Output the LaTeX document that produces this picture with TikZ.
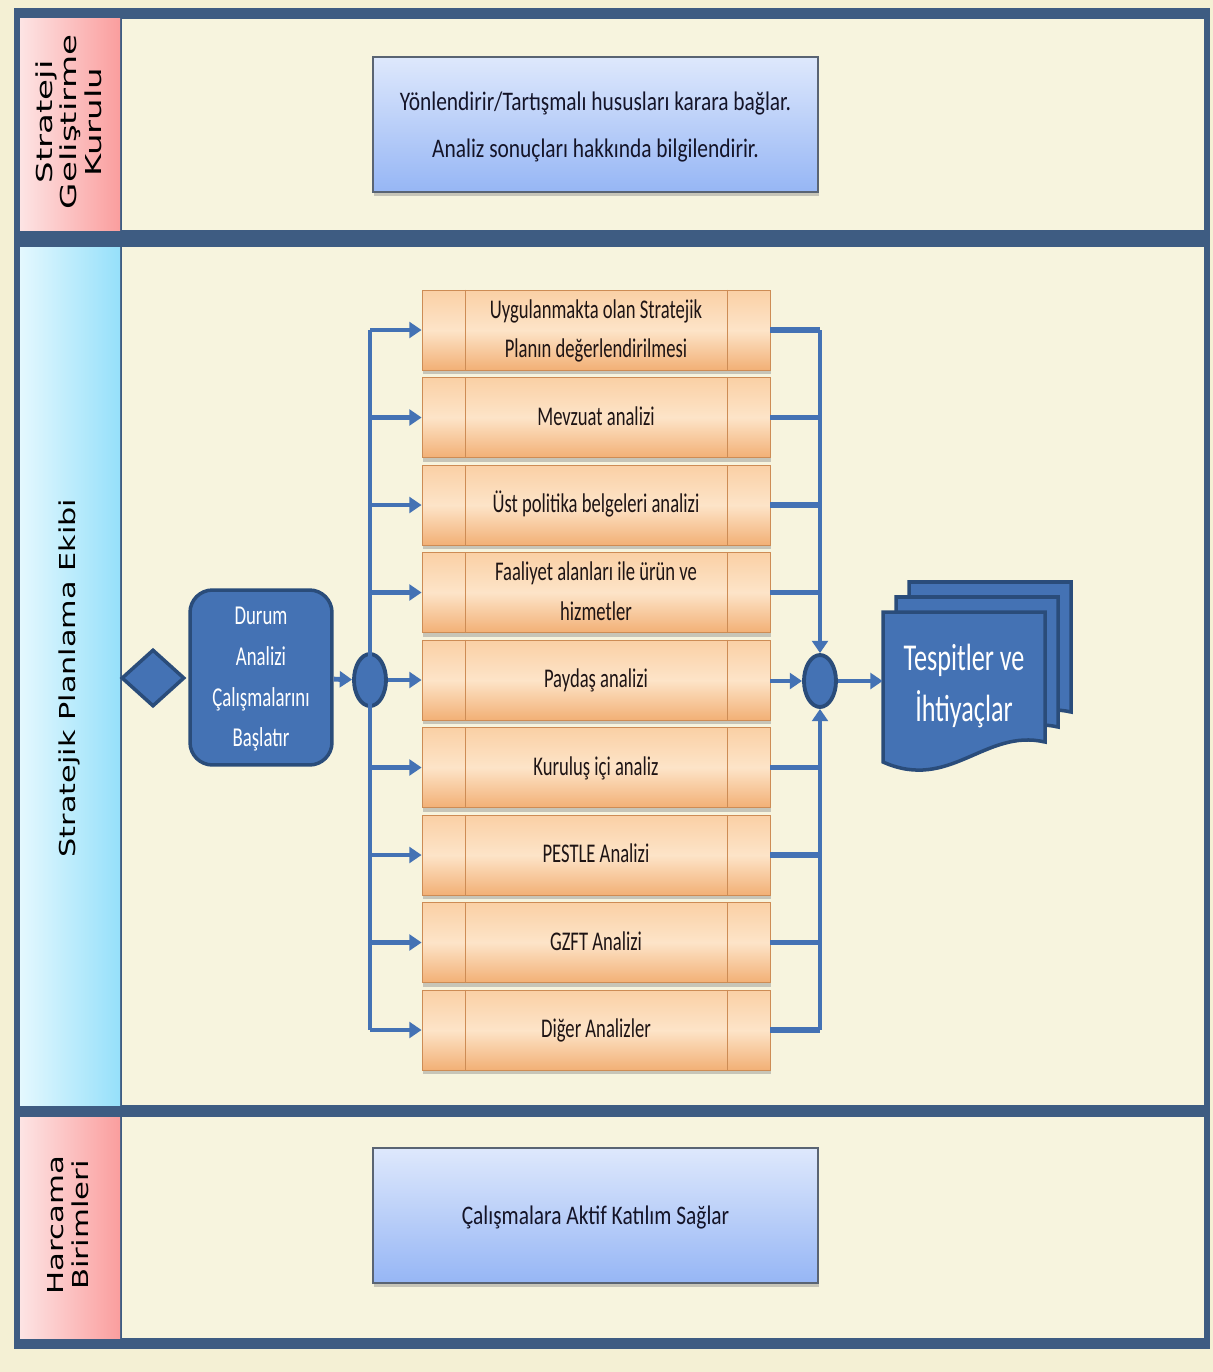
\documentclass[tikz,border=0pt]{standalone}
\usepackage{fontspec}
\setmainfont{Carlito}
\newfontfamily\lanefont{DejaVu Sans}
\usepackage{graphicx}
\usetikzlibrary{shapes.geometric,arrows.meta,shadows}

\newcommand\tall[4][1.45]{\scalebox{1}[#1]{\fontsize{#2}{#3}\selectfont\begin{tabular}{@{}c@{}}#4\end{tabular}}}
\newcommand\lanetext[2][1.38]{\scalebox{#1}[1]{\lanefont\fontsize{12.5}{14}\selectfont\begin{tabular}{@{}c@{}}#2\end{tabular}}}

\begin{document}
\begin{tikzpicture}[x=0.02cm,y=-0.02cm,
  >={Triangle[length=7pt,width=9pt]},
  lanelabel/.style={rotate=90, inner sep=0pt, text=black},
  notebox/.style={rectangle, draw=notedraw, line width=0.8pt, top color=notetop, bottom color=notebot,
    minimum width=8.9cm, minimum height=2.7cm, text=notetext,
    drop shadow={opacity=0.4, shadow xshift=0.8pt, shadow yshift=-2.5pt}},
  orbox/.style={rectangle, draw=ordraw, line width=0.5pt, top color=ortop, bottom color=orbot, middle color=ormid,
    minimum width=6.96cm, minimum height=1.6cm, text=ortext, inner sep=0pt,
    drop shadow={opacity=0.4, shadow xshift=0.8pt, shadow yshift=-2.5pt}},
  orline/.style={draw=ordraw, line width=0.5pt},
  flowbox/.style={rectangle, rounded corners=0.45cm, fill=flowblue, draw=flowdark, line width=2pt,
    minimum width=2.84cm, minimum height=3.5cm, text=white, inner sep=0pt},
  gatenode/.style={diamond, fill=flowblue, draw=flowdark, line width=2pt, minimum width=1.26cm, minimum height=1.14cm, inner sep=0pt},
  joint/.style={ellipse, fill=flowblue, draw=flowdark, line width=2.2pt, minimum width=0.64cm, minimum height=1.04cm, inner sep=0pt},
  pagesheet/.style={fill=flowblue, draw=flowdark, line width=2pt},
  doctext/.style={minimum width=3.24cm, minimum height=3cm, inner sep=0pt, text=white},
  flow/.style={->, draw=flowblue, line width=2.8pt},
  link/.style={draw=flowblue, line width=3pt},
  bus/.style={draw=flowblue, line width=2.2pt}]
%Define all colors here.
\definecolor{bgcream}{RGB}{244,240,212}
\definecolor{lanebody}{RGB}{247,244,222}
\definecolor{framecol}{RGB}{62,92,130}
\definecolor{pinkL}{RGB}{253,228,228}
\definecolor{pinkR}{RGB}{250,158,158}
\definecolor{cyanL}{RGB}{228,248,254}
\definecolor{cyanR}{RGB}{150,224,250}
\definecolor{notetop}{RGB}{222,232,252}
\definecolor{notebot}{RGB}{150,182,245}
\definecolor{notedraw}{RGB}{90,100,115}
\definecolor{notetext}{RGB}{20,20,40}
\definecolor{ortop}{RGB}{250,208,165}
\definecolor{ormid}{RGB}{253,228,200}
\definecolor{orbot}{RGB}{242,176,118}
\definecolor{ordraw}{RGB}{205,140,85}
\definecolor{ortext}{RGB}{30,20,20}
\definecolor{flowblue}{RGB}{68,114,180}
\definecolor{flowdark}{RGB}{42,76,122}

\useasboundingbox (0,0) rectangle (1213,1372);
\fill[bgcream] (0,0) rectangle (1213,1372);

%Lanes and frame.
\fill[framecol] (14,8) rectangle (1210,1349);
\shade[left color=pinkL, right color=pinkR] (20,19) rectangle (120,230);
\fill[lanebody] (122,19) rectangle (1204,230);
\shade[left color=cyanL, right color=cyanR] (20,247) rectangle (120,1105);
\fill[lanebody] (122,247) rectangle (1204,1105);
\shade[left color=pinkL, right color=pinkR] (20,1117) rectangle (120,1338);
\fill[lanebody] (122,1117) rectangle (1204,1338);

\node(kurul) at (72,122) [lanelabel] {\lanetext[1.55]{Strateji\\Geliştirme\\Kurulu}};
\node(ekip) at (71,678) [lanelabel] {\lanetext[1.38]{Stratejik Planlama Ekibi}};
\node(birim) at (71,1225) [lanelabel] {\lanetext[1.4]{Harcama\\Birimleri}};

%Notes of the upper and lower lanes.
\node(guide) at (595.5,124.5) [notebox] {\tall[1.25]{12.2}{21.2}{Yönlendirir/Tartışmalı hususları karara bağlar.\\Analiz sonuçları hakkında bilgilendirir.}};
\node(katilim) at (595.5,1215.5) [notebox] {\tall[1.25]{12.2}{21.2}{Çalışmalara Aktif Katılım Sağlar}};

%Analysis boxes.
\node(o1) at (596,330) [orbox] {\tall{10.6}{15.5}{Uygulanmakta olan Stratejik\\Planın değerlendirilmesi}};
\node(o2) at (596,417.5) [orbox] {\tall{10.6}{15.5}{Mevzuat analizi}};
\node(o3) at (596,505) [orbox] {\tall{10.6}{15.5}{Üst politika belgeleri analizi}};
\node(o4) at (596,592.5) [orbox] {\tall{10.6}{15.5}{Faaliyet alanları ile ürün ve\\hizmetler}};
\node(o5) at (596,680) [orbox] {\tall{10.6}{15.5}{Paydaş analizi}};
\node(o6) at (596,767.5) [orbox] {\tall{10.6}{15.5}{Kuruluş içi analiz}};
\node(o7) at (596,855) [orbox] {\tall{10.6}{15.5}{PESTLE Analizi}};
\node(o8) at (596,942.5) [orbox] {\tall{10.6}{15.5}{GZFT Analizi}};
\node(o9) at (596,1030) [orbox] {\tall{10.6}{15.5}{Diğer Analizler}};
\foreach \i in {1,...,9}{
  \draw[orline] ([xshift=0.88cm]o\i.north west) -- ([xshift=0.88cm]o\i.south west);
  \draw[orline] ([xshift=-0.86cm]o\i.north east) -- ([xshift=-0.86cm]o\i.south east);
}

%Start, split and merge.
\node(gate) at (153,678) [gatenode] {};
\node(start) at (261,677.5) [flowbox] {\tall{10.7}{16}{Durum\\Analizi\\Çalışmalarını\\Başlatır}};
\node(split) at (370,680) [joint] {};
\node(merge) at (820,681) [joint] {};

%Document stack.
\draw[pagesheet, shift={(26,-30)}] (883,612) -- (1045,612) -- (1045,742) .. controls (985,728) and (950,792) .. (883,762) -- cycle;
\draw[pagesheet, shift={(13,-15)}] (883,612) -- (1045,612) -- (1045,742) .. controls (985,728) and (950,792) .. (883,762) -- cycle;
\draw[pagesheet] (883,612) -- (1045,612) -- (1045,742) .. controls (985,728) and (950,792) .. (883,762) -- cycle;
\node(tesp) at (964,686) [doctext] {\tall{14.9}{20}{Tespitler ve\\İhtiyaçlar}};

%Connectors.
\draw[flow] (start) -- (split);
\draw[bus] (split |- o1.west) -- (split |- o9.west);
\draw[flow] (split |- o1.west) -- (o1.west);
\draw[flow] (split |- o2.west) -- (o2.west);
\draw[flow] (split |- o3.west) -- (o3.west);
\draw[flow] (split |- o4.west) -- (o4.west);
\draw[flow] (split) -- (o5.west);
\draw[flow] (split |- o6.west) -- (o6.west);
\draw[flow] (split |- o7.west) -- (o7.west);
\draw[flow] (split |- o8.west) -- (o8.west);
\draw[flow] (split |- o9.west) -- (o9.west);

\draw[link] (o1.east) -- (merge |- o1.east);
\draw[link] (o2.east) -- (merge |- o2.east);
\draw[link] (o3.east) -- (merge |- o3.east);
\draw[link] (o4.east) -- (merge |- o4.east);
\draw[link] (o6.east) -- (merge |- o6.east);
\draw[link] (o7.east) -- (merge |- o7.east);
\draw[link] (o8.east) -- (merge |- o8.east);
\draw[link] (o9.east) -- (merge |- o9.east);
\draw[bus,->] (merge |- o1.east) -- (merge.north);
\draw[bus,->] (merge |- o9.east) -- (merge.south);
\draw[flow] (o5.east |- merge.west) -- (merge.west);
\draw[flow] (merge.east) -- (merge.east -| tesp.west);
\end{tikzpicture}
\end{document}
